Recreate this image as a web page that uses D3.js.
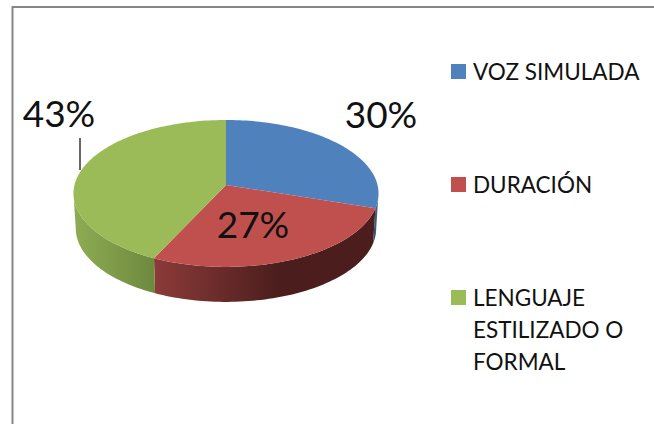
<!DOCTYPE html>
<html lang="en">
<head>
	<meta charset="UTF-8">
	<title>Pie chart</title>
	<script src="https://cdn.jsdelivr.net/npm/d3@7/dist/d3.min.js"></script>
	<style>
		html, body { margin: 0; padding: 0; background: #fff; overflow: hidden; }
		text { font-family: Lato, "Open Sans", sans-serif; fill: #111; }
	</style>
</head>
<body>
	<div id="container"></div>
	<script>
		var categories = ["VOZ SIMULADA", "DURACIÓN", "LENGUAJE ESTILIZADO O FORMAL"];
		var values = [30, 27, 43];
		var valueLabels = ["30%", "27%", "43%"];
		var colors = ["#4f81bd", "#c0504d", "#9bbb59"];
		var legendLines = [["VOZ SIMULADA"], ["DURACIÓN"], ["LENGUAJE", "ESTILIZADO O", "FORMAL"]];

		var width = 654, height = 424;
		var svg = d3.select("#container").append("svg")
			.attr("width", width)
			.attr("height", height)
			.style("display", "block");
		var defs = svg.append("defs");

		// chart frame, only top and left edges are in the crop
		svg.append("path")
			.attr("d", "M12.5,424V7H654")
			.attr("fill", "none")
			.attr("stroke", "#868686")
			.attr("stroke-width", 2);

		// pie tilted with a little perspective, so the near side looks bigger
		var cx = 226, cy = 185, rx = 151.5, ry = 72.5, k = 0.115, depth = 35;

		function topEdge(a) {
			var u = Math.sin(a), v = -Math.cos(a), s = 1 / (1 - k * v);
			return [cx + rx * u * s, cy + ry * v * s];
		}
		function bottomEdge(a) {
			var p = topEdge(a);
			return [cx + (p[0] - cx) * 0.985, p[1] + depth];
		}

		var arcs = d3.pie().sort(null)(values);

		function edge(a0, a1, fn) {
			var n = Math.max(2, Math.ceil(Math.abs(a1 - a0) * 40));
			return d3.range(n + 1).map(function(i) { return fn(a0 + (a1 - a0) * i / n); });
		}

		var line = d3.line();
		var sideStops = [
			[["0", "#4a6c96"], ["1", "#24405f"]],
			[["0", "#8a3a38"], ["0.55", "#4b1e1d"], ["1", "#4b1e1d"]],
			[["0", "#8dab52"], ["1", "#6d883e"]]
		];
		// x range each side gradient runs over
		var sideRange = [[378, 372], [157, 378], [76, 157]];

		// the wall is only visible between the widest points of the rim
		var widest = Math.acos(-k);

		arcs.forEach(function(d, i) {
			var a0 = Math.max(d.startAngle, widest);
			var a1 = Math.min(d.endAngle, 2 * Math.PI - widest);
			if (a1 <= a0) return;

			var grad = defs.append("linearGradient")
				.attr("id", "side" + i)
				.attr("gradientUnits", "userSpaceOnUse")
				.attr("x1", sideRange[i][0]).attr("x2", sideRange[i][1])
				.attr("y1", 0).attr("y2", 0);
			sideStops[i].forEach(function(s) {
				grad.append("stop").attr("offset", s[0]).attr("stop-color", s[1]);
			});

			var pts = edge(a0, a1, topEdge).concat(edge(a1, a0, bottomEdge));
			svg.append("path")
				.attr("d", line(pts) + "Z")
				.attr("fill", "url(#side" + i + ")");
		});

		arcs.forEach(function(d, i) {
			var pts = [[cx, cy]].concat(edge(d.startAngle, d.endAngle, topEdge));
			svg.append("path")
				.attr("d", line(pts) + "Z")
				.attr("fill", colors[i]);
		});

		// data labels
		var labelPos = [[381, 128], [253, 238], [59, 127]];
		valueLabels.forEach(function(t, i) {
			svg.append("text")
				.attr("x", labelPos[i][0])
				.attr("y", labelPos[i][1])
				.attr("text-anchor", "middle")
				.attr("font-size", 37)
				.text(t);
		});

		// leader line of the green slice
		svg.append("line")
			.attr("x1", 80).attr("x2", 80)
			.attr("y1", 138).attr("y2", 170)
			.attr("stroke", "#000")
			.attr("stroke-width", 1.2);

		// legend
		var legendY = [72, 185, 298];
		legendLines.forEach(function(lines, i) {
			svg.append("rect")
				.attr("x", 451).attr("y", legendY[i] - 8)
				.attr("width", 15).attr("height", 15)
				.attr("fill", colors[i]);
			lines.forEach(function(t, j) {
				svg.append("text")
					.attr("x", 473)
					.attr("y", legendY[i] + 7.5 + j * 32)
					.attr("font-size", 22.5)
					.text(t);
			});
		});
	</script>
</body>
</html>
